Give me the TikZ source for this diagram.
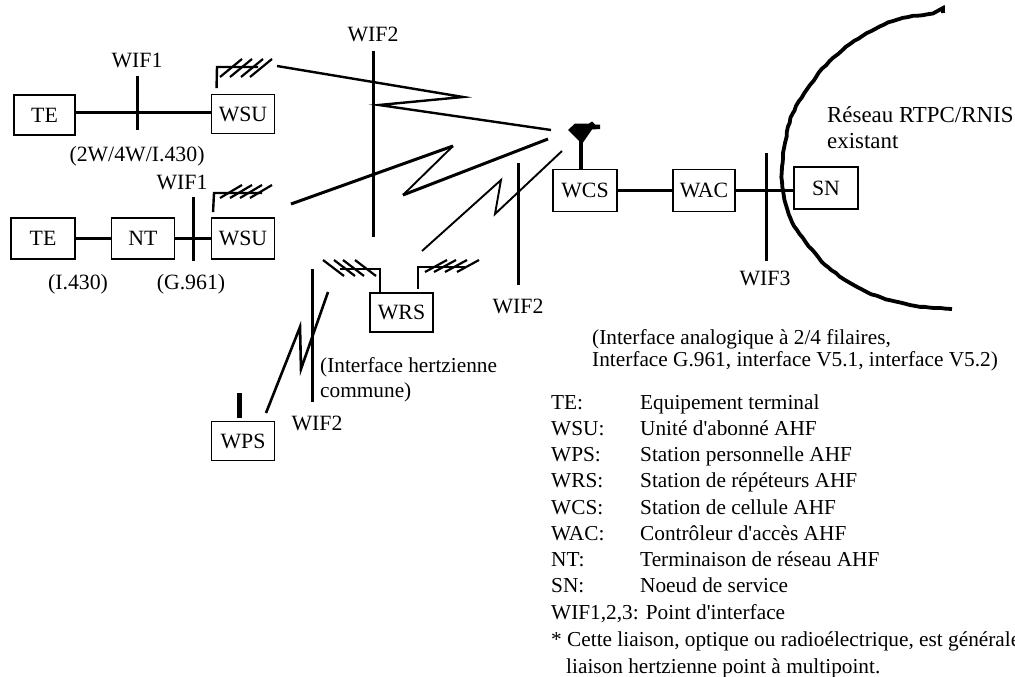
\documentclass[tikz,border=0pt]{standalone}
\usepackage{fontspec}
\setmainfont{Liberation Serif}[Ligatures=TeXOff]
\usetikzlibrary{decorations.pathmorphing}
\begin{document}
\begin{tikzpicture}[x=1pt,y=-1pt,
  lbl/.style={inner sep=0pt,anchor=base,font=\fontsize{21.8}{26}\selectfont},
  lblw/.style={inner sep=0pt,anchor=base west,font=\fontsize{21.3}{26}\selectfont},
  boxn/.style={draw,line width=1.9pt,inner sep=0pt,minimum width=#1,minimum height=39pt,font=\fontsize{21.8}{26}\selectfont},
  boxn/.default=63pt,
  wire/.style={line width=2.6pt},
  wif/.style={line width=2.6pt},
  hatch/.style={line width=2.2pt},
  radioa/.style={line width=2.4pt,line join=miter},
  radiob/.style={line width=3pt,line join=miter},
  radioc/.style={line width=1.9pt,line join=miter}]
\useasboundingbox (0,0) rectangle (1015,677);
\clip (0,0) rectangle (1015,677);

% boxes
\node[boxn=61pt,minimum height=40pt] (te1) at (44.5,115) {TE};
\node[boxn] (wsu1) at (243,114) {WSU};
\node[boxn=64pt,minimum height=41pt] (te2) at (43,238.5) {TE};
\node[boxn,minimum height=41pt] (nt) at (143,238.5) {NT};
\node[boxn,minimum height=41pt] (wsu2) at (243,238.5) {WSU};
\node[boxn] (wrs) at (401.5,312.5) {WRS};
\node[boxn] (wps) at (243,441) {WPS};
\node[boxn=64pt,minimum height=42pt] (wcs) at (585,190.5) {WCS};
\node[boxn=62pt,minimum height=42pt] (wac) at (704,190.5) {WAC};
\node[boxn=64pt,minimum height=42pt] (sn) at (826,188) {SN};

% wires
\draw[wire] (te1.east |- 0,112.5) coordinate (a1) -- (wsu1.west |- a1);
\draw[wire] (te2) -- (nt);
\draw[wire] (nt) -- (wsu2);
\draw[wire] (wcs.east |- 0,190.5) coordinate (a2) -- (wac);
\draw[wire] (wac) -- (sn.west |- wac);

% interface ticks
\coordinate (w1a) at (137.5,76); \coordinate (w1b) at (137.5,130);
\coordinate (w2a) at (193.5,197); \coordinate (w2b) at (193.5,261);
\coordinate (w3a) at (373.5,51); \coordinate (w3b) at (373.5,237);
\coordinate (w4a) at (518.5,163); \coordinate (w4b) at (518.5,285);
\coordinate (w5a) at (312.5,269); \coordinate (w5b) at (312.5,402);
\coordinate (w6a) at (766.5,153); \coordinate (w6b) at (766.5,261);
\draw[wif] (w1a) -- (w1b);
\draw[wif] (w2a) -- (w2b);
\draw[wif] (w3a) -- (w3b);
\draw[wif] (w4a) -- (w4b);
\draw[wif] (w5a) -- (w5b);
\draw[wif] (w6a) -- (w6b);

% radio links
\coordinate (r1a) at (277,66); \coordinate (r1b) at (463,97);
\coordinate (r1c) at (379,105); \coordinate (r1d) at (551,130);
\draw[radioa] (r1a) -- (r1b) -- (r1c) -- (r1d);
\coordinate (r2a) at (291,204); \coordinate (r2b) at (453,146);
\coordinate (r2c) at (403,195); \coordinate (r2d) at (548,139);
\draw[radiob] (r2a) -- (r2b);
\draw[radioc] (r2b) -- (r2c);
\draw[radiob] (r2c) -- (r2d);
\coordinate (r3a) at (422,251); \coordinate (r3b) at (501,180);
\coordinate (r3c) at (495,214); \coordinate (r3d) at (562,151);
\draw[radioc] (r3a) -- (r3b) -- (r3c) -- (r3d);
\coordinate (r4a) at (266,413); \coordinate (r4b) at (300,327);
\coordinate (r4c) at (301,369); \coordinate (r4d) at (328,292);
\draw[radioa,line width=2.6pt] (r4a) -- (r4b) -- (r4c) -- (r4d);

% antenna WSU 1
\draw[line width=2.4pt] (wsu1.north west) ++(6,-5.5) coordinate (an1) -- (217,67) -- (258,67);
\foreach \x in {220,230,241,250}
  \draw[hatch] (\x,77) -- ++(22,-18);
% antenna WSU 2
\draw[line width=2.4pt] (wsu2.north west) ++(2.5,-5) coordinate (an2) -- (214,193) -- (262,193);
\foreach \x in {220,230,240,250}
  \draw[hatch] (\x,198) -- ++(22,-13);
% antenna WRS left
\draw[line width=2.4pt] (380,293) coordinate (an3) -- (380,269) -- (340,269);
\foreach \x in {323,334,343,355}
  \draw[hatch] (\x,260) -- ++(21,16);
% antenna WRS right
\draw[line width=2.4pt] (418,289) coordinate (an4) -- (418,267) -- (465,267);
\foreach \x in {425,434,445,457}
  \draw[hatch] (\x,272) -- ++(22,-12);
% antenna WPS
\draw[line width=5pt] (239.5,418) coordinate (an5) -- (239.5,393);
% antenna WCS
\draw[line width=4.5pt] (wcs.north -| 581,0) coordinate (an6) -- (581,140);
\fill (568,130) -- (575,123.5) -- (589,123.5) -- (592,121.5) -- (595,124.5) -- (600,124.5) -- (600,129) -- (592,129.5) -- (582,144) -- cycle;

% network arc
\pgfmathsetseed{7}
\draw[line width=3.8pt,line cap=butt,decorate,decoration={random steps,segment length=5pt,amplitude=0.5pt}] plot[smooth,tension=0.6] coordinates {
 (943,13) (903,18) (867,33) (833,58) (810,85) (793,113) (785,143) (782,167)
 (783,190) (790,217) (803,238) (828,267) (867,292) (910,305) (952,309)};

% labels
\node[lbl] (t1) at (137,68) {WIF1};
\node[lbl] (t2) at (137,161) {(2W/4W/I.430)};
\node[lbl] (t3) at (182,189) {WIF1};
\node[lbl] (t4) at (78,289) {(I.430)};
\node[lbl] (t5) at (191,289) {(G.961)};
\node[lbl] (t6) at (373,42) {WIF2};
\node[lbl] (t7) at (518,313) {WIF2};
\node[lbl] (t8) at (317,430) {WIF2};
\node[lbl] (t9) at (765,285) {WIF3};
\node[lblw,font=\fontsize{22.9}{26}\selectfont] (t10) at (827,122) {Réseau RTPC/RNIS};
\node[lblw,font=\fontsize{22.9}{26}\selectfont] (t11) at (827,148) {existant};
\node[lblw] (t12) at (320,372) {(Interface hertzienne};
\node[lblw] (t13) at (320,397) {commune)};
\node[lblw] (t14) at (592,344) {(Interface analogique à 2/4 filaires,};
\node[lblw] (t15) at (592,366) {Interface G.961, interface V5.1, interface V5.2)};

% legend
\node[lblw] (k1) at (551,409) {TE:};   \node[lblw] (v1) at (640,409) {Equipement terminal};
\node[lblw] (k2) at (551,435) {WSU:};  \node[lblw] (v2) at (640,435) {Unité d'abonné AHF};
\node[lblw] (k3) at (551,461) {WPS:};  \node[lblw] (v3) at (640,461) {Station personnelle AHF};
\node[lblw] (k4) at (551,487) {WRS:};  \node[lblw] (v4) at (640,487) {Station de répéteurs AHF};
\node[lblw] (k5) at (551,514) {WCS:};  \node[lblw] (v5) at (640,514) {Station de cellule AHF};
\node[lblw] (k6) at (551,540) {WAC:};  \node[lblw] (v6) at (640,540) {Contrôleur d'accès AHF};
\node[lblw] (k7) at (551,566) {NT:};   \node[lblw] (v7) at (640,566) {Terminaison de réseau AHF};
\node[lblw] (k8) at (551,592) {SN:};   \node[lblw] (v8) at (640,592) {Noeud de service};
\node[lblw] (k9) at (551,619) {WIF1,2,3: Point d'interface};
\node[lblw] (k10) at (551,646) {* Cette liaison, optique ou radioélectrique, est générale};
\node[lblw] (k11) at (566,673) {liaison hertzienne point à multipoint.};
\end{tikzpicture}
\end{document}
